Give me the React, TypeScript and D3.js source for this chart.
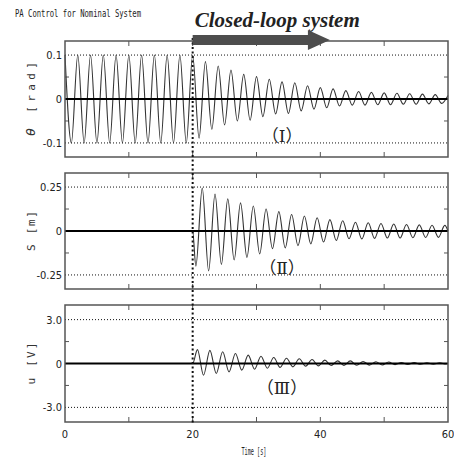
import React from "react";
import * as d3 from "d3";

// time of each extremum (s) and the value read at it
const thetaTimes = [0, 1, 2, 3, 4, 5, 6, 7, 8, 9, 10, 11, 12, 13, 14, 15, 16, 17, 18, 19, 20, 21, 22, 23, 24, 25, 26, 27, 28, 29, 30, 31, 32, 33, 34, 35, 36, 37, 38, 39, 40, 41, 42, 43, 44, 45, 46, 47, 48, 49, 50, 51, 52, 53, 54, 55, 56, 57, 58, 59, 60];
const thetaValues = [0.1, -0.1, 0.1, -0.1, 0.1, -0.1, 0.1, -0.1, 0.1, -0.1, 0.1, -0.1, 0.1, -0.1, 0.1, -0.1, 0.1, -0.1, 0.1, -0.1, 0.1,
  -0.089, 0.085, -0.069, 0.075, -0.059, 0.066, -0.05, 0.056, -0.048, 0.051, -0.04, 0.045, -0.034, 0.039, -0.033, 0.037, -0.027, 0.03, -0.023, 0.026,
  -0.02, 0.023, -0.016, 0.019, -0.014, 0.017, -0.014, 0.015, -0.013, 0.014, -0.013, 0.013, -0.012, 0.012, -0.012, 0.011, -0.011, 0.01, -0.01, 0.008];

const sTimes = [0, 20, 20.5, 21.5, 22.5, 23.5, 24.5, 25.5, 26.5, 27.5, 28.5, 29.5, 30.5, 31.5, 32.5, 33.5, 34.5, 35.5, 36.5, 37.5, 38.5, 39.5, 40.5, 41.5, 42.5, 43.5, 44.5, 45.5, 46.5, 47.5, 48.5, 49.5, 50.5, 51.5, 52.5, 53.5, 54.5, 55.5, 56.5, 57.5, 58.5, 59.5, 60];
const sValues = [0, 0, -0.2, 0.244, -0.227, 0.21, -0.19, 0.183, -0.165, 0.16, -0.15, 0.142, -0.13, 0.125, -0.1, 0.11, -0.096, 0.094, -0.083, 0.085, -0.073, 0.075,
  -0.063, 0.065, -0.054, 0.058, -0.044, 0.05, -0.045, 0.047, -0.042, 0.043, -0.04, 0.04, -0.04, 0.037, -0.038, 0.035, -0.037, 0.033, -0.036, 0.032, 0];

const uTimes = [0, 20, 20.75, 21.7, 22.7, 23.7, 24.7, 25.7, 26.7, 27.7, 28.7, 29.7, 30.7, 31.7, 32.7, 33.7, 34.7, 35.7, 36.7, 37.7, 38.7, 39.7, 40.7, 41.7, 42.7, 43.7, 44.7, 45.7, 46.7, 47.7, 48.7, 49.7, 50.7, 51.7, 52.7, 53.7, 54.7, 55.7, 56.7, 57.7, 58.7, 59.7, 60];
const uValues = [0, 0, 0.95, -0.8, 0.9, -0.68, 0.8, -0.57, 0.68, -0.45, 0.57, -0.39, 0.5, -0.32, 0.41, -0.27, 0.36, -0.23, 0.32, -0.18, 0.27, -0.16,
  0.23, -0.14, 0.18, -0.13, 0.18, -0.12, 0.14, -0.11, 0.12, -0.1, 0.1, -0.08, 0.07, -0.06, 0.06, -0.05, 0.05, -0.04, 0.04, -0.03, 0];

const thetaTicks = [0.1, 0, -0.1];
const thetaTickLabels = ["0.1", "0", "-0.1"];
const sTicks = [0.25, 0, -0.25];
const sTickLabels = ["0.25", "0", "-0.25"];
const uTicks = [3.0, 0, -3.0];
const uTickLabels = ["3.0", "0", "-3.0"];

const timeTicks = [0, 20, 40, 60];
const timeTickLabels = ["0", "20", "40", "60"];
const timeMinorTicks = [10, 20, 30, 40, 50];

const switchTime = 20;
const arrowEndTime = 41.5;
const labelTime = 34;

const x = d3.scaleLinear().domain([0, 60]).range([65, 448]);

const panels = [
  { top: 41, bottom: 157, lim: 0.132, times: thetaTimes, values: thetaValues, ticks: thetaTicks, tickLabels: thetaTickLabels, sym: "θ", unit: " [rad]", ylen: 74, tag: "（Ⅰ）", tagY: 142 },
  { top: 173, bottom: 289, lim: 0.33, times: sTimes, values: sValues, ticks: sTicks, tickLabels: sTickLabels, sym: "S", unit: " [m]", ylen: 40, tag: "（Ⅱ）", tagY: 274 },
  { top: 305, bottom: 422, lim: 4.0, times: uTimes, values: uValues, ticks: uTicks, tickLabels: uTickLabels, sym: "u", unit: " [V]", ylen: 42, tag: "（Ⅲ）", tagY: 394 },
];

const tickFont = "'Liberation Sans Narrow', 'DejaVu Sans Condensed', 'Liberation Sans', sans-serif";

const Panel = ({ p }) => {
  const y = d3.scaleLinear().domain([-p.lim, p.lim]).range([p.bottom, p.top]);
  const line = d3
    .line()
    .x((d) => x(d[0]))
    .y((d) => y(d[1]))
    .curve(d3.curveMonotoneX);
  const pts = p.times.map((t, i) => [t, p.values[i]]);
  const major = p.ticks[0];
  const minorY = [major / 2, -major / 2];
  const [x0, x1] = x.range();
  return (
    <g>
      {/* dotted grid at +/- major */}
      {[major, -major].map((v) => (
        <line key={v} x1={x0} x2={x1} y1={y(v)} y2={y(v)} stroke="#111" strokeWidth={1} strokeDasharray="1,2" />
      ))}
      {/* tick marks on the frame */}
      {timeMinorTicks.map((t) => (
        <g key={t}>
          <line x1={x(t)} x2={x(t)} y1={p.top} y2={p.top + 5} stroke="#555" />
          <line x1={x(t)} x2={x(t)} y1={p.bottom} y2={p.bottom - 5} stroke="#555" />
        </g>
      ))}
      {minorY.map((v) => (
        <g key={v}>
          <line x1={x0} x2={x0 + 4} y1={y(v)} y2={y(v)} stroke="#555" />
          <line x1={x1} x2={x1 - 4} y1={y(v)} y2={y(v)} stroke="#555" />
        </g>
      ))}
      <path d={line(pts)} fill="none" stroke="#333" strokeWidth={1.1} />
      <line x1={x0} x2={x1} y1={y(0)} y2={y(0)} stroke="#000" strokeWidth={2} />
      <rect x={x0} y={p.top} width={x1 - x0} height={p.bottom - p.top} fill="none" stroke="#555" strokeWidth={1.5} />
      {p.ticks.map((v, i) => (
        <text key={v} x={62} y={y(v) + 4} textAnchor="end" fontSize={11} fontFamily={tickFont} fill="#222">
          {p.tickLabels[i]}
        </text>
      ))}
      <text
        transform={`translate(35,${y(0)}) rotate(-90)`}
        textAnchor="middle"
        fontSize={11}
        fontFamily="'DejaVu Sans Mono', monospace"
        fill="#333"
        textLength={p.ylen}
        lengthAdjust="spacing"
      >
        <tspan fontStyle={p.sym === "θ" ? "italic" : "normal"} fontSize={p.sym === "θ" ? 13 : 11}>{p.sym}</tspan>
        {p.unit}
      </text>
      <text x={x(labelTime)} y={p.tagY} textAnchor="middle" fontSize={17} fontFamily="'DejaVu Serif', 'Liberation Serif', 'Noto Sans CJK JP', serif" fill="#222">
        {p.tag}
      </text>
    </g>
  );
};

export default function App() {
  const xs = x(switchTime);
  const xe = x(arrowEndTime);
  return (
    <svg width={454} height={457} style={{ position: "absolute", left: 0, top: 0, background: "#fff" }}>
      <rect width={454} height={457} fill="#fff" />
      <text x={15} y={17} fontSize={10} fontFamily="'DejaVu Sans Mono', monospace" fill="#222" textLength={126} lengthAdjust="spacingAndGlyphs">
        PA Control for Nominal System
      </text>
      <text x={xs + 2} y={27} fontSize={21} fontWeight="bold" fontStyle="italic" fontFamily="'Liberation Serif', serif" fill="#222">
        Closed-loop system
      </text>
      {panels.map((p, i) => (
        <Panel key={i} p={p} />
      ))}
      {/* switch-over line */}
      <line x1={xs} x2={xs} y1={38} y2={423} stroke="#111" strokeWidth={2} strokeDasharray="2,2.5" />
      {/* arrow */}
      <path d={`M${xs},35 L${xe - 22},35 L${xe - 22},30 L${xe},40 L${xe - 22},50 L${xe - 22},45 L${xs},45 Z`} fill="#4d4d4d" />
      {timeTicks.map((t, i) => (
        <text key={t} x={x(t)} y={438} textAnchor="middle" fontSize={11} fontFamily={tickFont} fill="#222">
          {timeTickLabels[i]}
        </text>
      ))}
      <text x={254} y={455} textAnchor="middle" fontSize={10} fontFamily="'DejaVu Sans Mono', monospace" fill="#222" textLength={25} lengthAdjust="spacingAndGlyphs">
        Time [s]
      </text>
    </svg>
  );
}
